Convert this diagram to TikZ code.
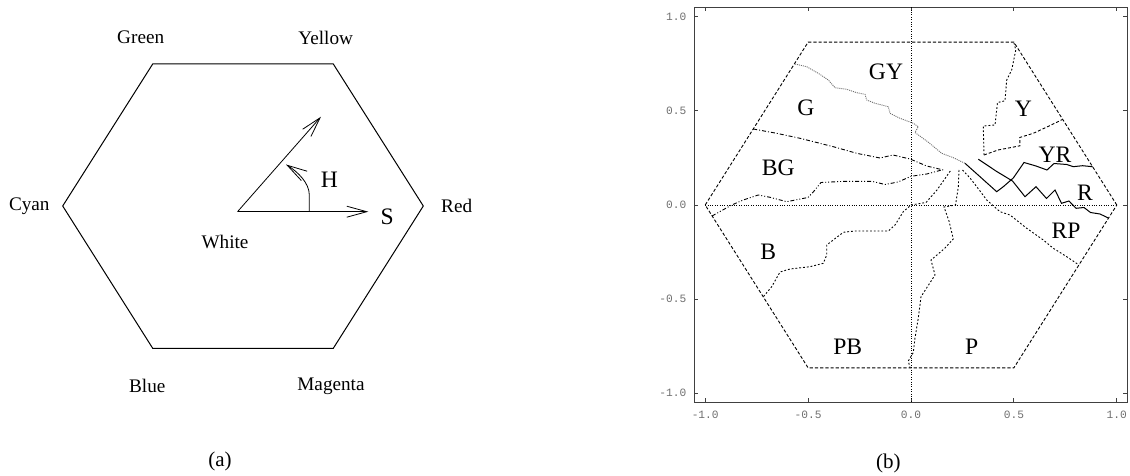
\documentclass[tikz,border=0pt]{standalone}
\usepackage{fontspec}
\setmainfont{Liberation Serif}
\setmonofont{Liberation Mono}
\usetikzlibrary{arrows.meta}
\definecolor{hsvGrey}{HTML}{6e6e6e}
\definecolor{hsvFrame}{HTML}{404040}
\tikzset{
  >={Straight Barb[length=10pt,width=5.5pt]},
  hexside/.style={draw=black, line width=0.5pt},
  vlbl/.style={font=\fontsize{9.6}{11}\selectfont, inner sep=0pt},
  biglbl/.style={font=\fontsize{11.8}{13}\selectfont, inner sep=0pt},
  sublbl/.style={font=\fontsize{10.5}{12}\selectfont, inner sep=0pt},
  ticklbl/.style={font=\ttfamily\fontsize{5.6}{6}\selectfont, text=hsvGrey, inner sep=0pt},
  plotframe/.style={draw=hsvFrame, line width=0.7pt},
  tickmark/.style={draw=hsvFrame, line width=0.5pt},
  zeroaxis/.style={line width=0.35pt, dash pattern=on 0.4pt off 0.8pt},
  hexdash/.style={line width=0.45pt, dash pattern=on 1.6pt off 1pt},
  bsolid/.style={line width=0.5pt},
  bdot/.style={line width=0.45pt, dash pattern=on 0.9pt off 1pt},
  bgrey/.style={line width=0.45pt, draw=hsvGrey, dash pattern=on 0.5pt off 0.5pt},
  bdash/.style={line width=0.45pt, dash pattern=on 1.5pt off 1pt},
  bdashdot/.style={line width=0.45pt, dash pattern=on 2pt off 1pt on 0.5pt off 1pt},
  bdashdotdot/.style={line width=0.45pt, dash pattern=on 2pt off 1pt on 0.5pt off 1pt on 0.5pt off 1pt},
}

\begin{document}
\begin{tikzpicture}[x=0.5pt,y=-0.5pt]
  \useasboundingbox (0,0) rectangle (1130,476);
  % (a) hexcone seen from above
  \coordinate (cy) at (62.7,206);
  \coordinate (gr) at (152.7,64);
  \coordinate (ye) at (333.3,64);
  \coordinate (rd) at (423.3,206);
  \coordinate (mg) at (333.3,348.3);
  \coordinate (bl) at (152.7,348.3);
  \draw[hexside] (rd)--(ye)--(gr)--(cy)--(bl)--(mg)--cycle;
  \node[vlbl] (lgreen) at (140.7,37.7) {Green};
  \node[vlbl] (lyellow) at (325.7,37.7) {Yellow};
  \node[vlbl] (lcyan) at (29.3,206) {Cyan};
  \node[vlbl] (lred) at (456.7,206) {Red};
  \node[vlbl] (lblue) at (147.3,386) {Blue};
  \node[vlbl] (lmagenta) at (331,386) {Magenta};
  \node[vlbl] (lwhite) at (225,241.7) {White};
  \coordinate (wh) at (237.5,211.7);
  \coordinate (stip) at (368.3,211.7);
  \coordinate (htip) at (321,116.7);
  \coordinate (harc) at (309.3,211.7);
  \coordinate (harcend) at (286,164.5);
  \draw[->] (wh)--(stip);
  \draw[->] (wh)--(htip);
  \draw[->] (harc) -- ++(0,-16.7) .. controls (309.3,183) and (298,172) .. (harcend);
  \node[biglbl] (lh) at (329.3,180) {H};
  \node[biglbl] (ls) at (387.3,216.7) {S};
  \node[sublbl] (suba) at (220,461.7) {(a)};

  % (b) measured hue regions
  \begin{scope}[shift={(911,205)}, x=102.9pt, y=94pt]
    \draw[plotframe] (-1.053,-1.049) rectangle (1.051,1.052);
    \foreach \t/\tl/\n in {-1/-1.0/1, -0.5/-0.5/2, 0/0.0/3, 0.5/0.5/4, 1/1.0/5} {
      \draw[tickmark] (\t,-1.049) -- ++(0,2pt);
      \draw[tickmark] (\t,1.052) -- ++(0,-2pt);
      \draw[tickmark] (-1.053,\t) -- ++(2pt,0);
      \draw[tickmark] (1.051,\t) -- ++(-2pt,0);
      \node[ticklbl, anchor=east] (yt\n) at (-1.09,\t) {\tl};
      \node[ticklbl] (xt\n) at (\t,-1.117) {\tl};
    }
    \draw[zeroaxis] (-1,0) -- (1,0);
    \draw[zeroaxis] (0,1.052) -- (0,-1.049);
    \draw[hexdash] (1,0) -- (0.5,0.866) -- (-0.5,0.866) -- (-1,0)
      -- (-0.5,-0.866) -- (0.5,-0.866) -- cycle;
  \end{scope}

  % region boundaries
  \draw[bgrey] (795,64) -- (806.7,66.7) -- (818.3,73.3) -- (828.3,80) -- (835,87.7)
    -- (846.7,89.3) -- (856.7,92.7) -- (865,94.3) -- (866.7,100) -- (875,103.3)
    -- (888.3,106.7) -- (890,113.3) -- (900,118.3) -- (913.3,123.3) -- (918.3,126.7)
    -- (915,132.5) -- (928,142) -- (941.7,153.3) -- (953.3,157.7) -- (965,163.3);
  \draw[bsolid] (965,163.3) -- (980,176.7) -- (996.7,191.7) -- (1003.3,186.7)
    -- (1013.3,178) -- (1024,162.5) -- (1036,166) -- (1047,170) -- (1054,163.5)
    -- (1066.7,164.5) -- (1073.3,166.7) -- (1082.5,165.7) -- (1092.5,166.7);
  \draw[bsolid] (978.3,159.2) -- (996.7,171.5) -- (1012.5,181) -- (1025,196.7)
    -- (1036,186.7) -- (1046.5,198.5) -- (1055,190) -- (1061.5,203.3) -- (1069,201)
    -- (1076,208.3) -- (1084,207.5) -- (1090.5,212.5) -- (1100,214) -- (1108.4,218);
  \draw[bdash] (984,155) -- (998,150) -- (1020,145.8) -- (1019.7,137.5)
    -- (1033.3,133.3) -- (1048,126.5) -- (1062.5,119.5);
  \draw[bdot] (984,155) -- (983.3,126) -- (995,125) -- (997.5,102.5) -- (1005,100.8)
    -- (1006.7,80) -- (1011.7,70) -- (1015.8,50) -- (1014,43);
  \draw[bdashdot] (753.2,129) -- (776.7,133.3) -- (800,138.3) -- (833.3,146.7)
    -- (856.7,153.3) -- (880,158) -- (893,155) -- (910,159) -- (926.7,166) -- (943.3,170);
  \draw[bdashdotdot] (712,216) -- (731.7,205) -- (743.3,200) -- (758.3,195)
    -- (770,197.3) -- (786.7,201.7) -- (808,197.5) -- (813.5,191.7) -- (821,182.5)
    -- (845,181.3) -- (872,181.3) -- (885,184.5) -- (898,182) -- (911,176.3)
    -- (926.7,174) -- (941.7,170);
  \draw[bdot] (763.5,296.5) -- (771.7,286.7) -- (780,272) -- (790,269) -- (810,266.7)
    -- (823.3,263.3) -- (826.7,255) -- (826.7,245) -- (843.3,232.3) -- (855,231)
    -- (888.3,231) -- (895,225) -- (903.3,211.7) -- (911,205) -- (926,202.5)
    -- (937,190) -- (951,170);
  \draw[bdot] (959,170) -- (958.3,187) -- (955.5,205) -- (944,207) -- (949,221)
    -- (953.3,239) -- (944,249) -- (931,260) -- (935,275) -- (921,296.7)
    -- (918.3,318) -- (915,338) -- (913.3,352.5) -- (908.3,361) -- (910,367.8);
  \draw[bdot] (962.5,170) -- (970,178) -- (980,191) -- (986.7,200) -- (1000,211.7)
    -- (1010,215) -- (1026.7,228.3) -- (1043.3,240) -- (1053.3,248.3)
    -- (1066.7,256.7) -- (1079,265);

  % region names
  \node[biglbl] (rgy) at (886,71.7) {GY};
  \node[biglbl] (rg) at (806,108.3) {G};
  \node[biglbl] (rbg) at (778.3,168.3) {BG};
  \node[biglbl] (ry) at (1023.3,108.3) {Y};
  \node[biglbl] (ryr) at (1055,155) {YR};
  \node[biglbl] (rr) at (1085,192.7) {R};
  \node[biglbl] (rrp) at (1066,230.7) {RP};
  \node[biglbl] (rb) at (768.3,251.7) {B};
  \node[biglbl] (rpb) at (847.7,346.7) {PB};
  \node[biglbl] (rp) at (971.7,346.7) {P};
  \node[sublbl] (subb) at (888.3,463.3) {(b)};
\end{tikzpicture}
\end{document}
